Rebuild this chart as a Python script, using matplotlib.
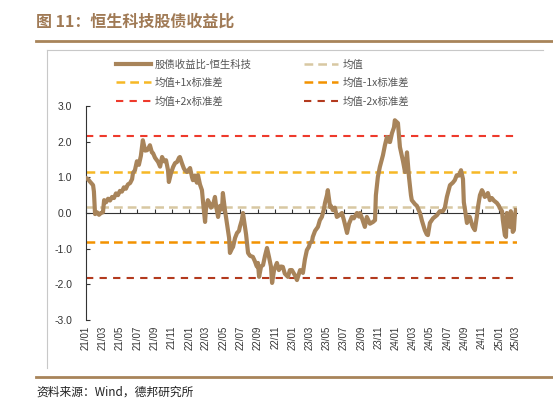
import numpy as np
import pandas as pd
import matplotlib
matplotlib.use("Agg")
import matplotlib.pyplot as plt
import matplotlib.dates as mdates
from matplotlib.lines import Line2D

plt.rcParams['font.family'] = ['Liberation Sans', 'Noto Sans CJK SC', 'DejaVu Sans']

###data: days since 2021-01-01 and stock/bond yield ratio
start = pd.Timestamp("2021-01-01")
days = [0, 7, 14, 25, 28, 32, 39, 46, 53, 60, 64, 71, 78, 85, 92, 99, 106, 113, 120, 127,
        134, 141, 148, 156, 163, 166, 173, 180, 187, 194, 201, 209, 216, 223, 226, 233, 237, 244, 255, 262,
        269, 276, 283, 290, 293, 300, 308, 315, 322, 329, 332, 339, 346, 350, 357, 368, 375, 378, 385, 392,
        396, 403, 410, 414, 421, 424, 431, 438, 442, 449, 456, 460, 467, 474, 481, 484, 491, 498, 506, 509,
        516, 520, 527, 534, 541, 544, 551, 555, 562, 566, 573, 580, 590, 597, 604, 608, 612, 619, 626, 633,
        640, 647, 654, 658, 665, 675, 682, 689, 696, 703, 714, 721, 728, 739, 746, 753, 757, 764, 767, 774,
        781, 788, 792, 799, 802, 810, 820, 827, 834, 841, 845, 852, 855, 863, 866, 873, 880, 887, 898, 905,
        912, 923, 930, 940, 947, 958, 965, 969, 976, 986, 993, 1004, 1015, 1022, 1025, 1032, 1039, 1050, 1057, 1064,
        1071, 1075, 1082, 1089, 1092, 1099, 1103, 1110, 1117, 1121, 1128, 1135, 1142, 1149, 1152, 1163, 1170, 1181, 1188, 1198,
        1205, 1209, 1216, 1227, 1241, 1251, 1262, 1269, 1276, 1287, 1297, 1304, 1311, 1319, 1326, 1333, 1336, 1340, 1347, 1354,
        1357, 1364, 1368, 1375, 1382, 1386, 1393, 1400, 1403, 1410, 1418, 1421, 1428, 1435, 1442, 1453, 1460, 1463, 1471, 1474,
        1481, 1485, 1488, 1495, 1499, 1502, 1506, 1509, 1513, 1516, 1520]
ratio = [0.98, 0.95, 0.88, 0.78, 0.6, -0.03, 0.02, -0.05, 0.0, 0.02, 0.36, 0.3, 0.4, 0.35, 0.45, 0.42, 0.55, 0.5, 0.62, 0.6,
         0.72, 0.68, 0.8, 0.84, 0.95, 1.12, 1.2, 1.45, 1.35, 1.6, 2.04, 1.75, 1.76, 1.85, 1.9, 1.7, 1.68, 1.55, 1.43, 1.3,
         1.57, 1.45, 1.48, 1.2, 0.87, 1.1, 1.29, 1.4, 1.43, 1.55, 1.57, 1.4, 1.25, 1.2, 1.15, 1.26, 1.0, 0.92, 1.05, 0.85,
         1.06, 0.8, 0.64, 0.3, -0.25, 0.1, 0.36, 0.25, 0.15, 0.22, 0.45, 0.2, -0.11, 0.2, 0.1, 0.56, 0.1, -0.28, -0.7, -1.12,
         -1.0, -0.95, -0.7, -0.56, -0.5, -0.39, -0.2, 0.0, -0.39, -0.6, -1.12, -1.2, -1.23, -1.35, -1.5, -1.4, -1.79, -1.5, -1.46, -1.2,
         -0.98, -1.23, -1.5, -1.96, -1.6, -1.4, -1.6, -1.5, -1.51, -1.7, -1.79, -1.6, -1.6, -1.75, -1.88, -1.7, -1.6, -1.65, -1.68, -1.3,
         -1.04, -0.95, -0.84, -0.8, -0.67, -0.5, -0.39, -0.2, -0.11, 0.1, 0.28, 0.5, 0.64, 0.17, 0.2, 0.08, 0.15, -0.11, -0.05, 0.0,
         -0.2, -0.56, -0.3, -0.11, -0.15, 0.0, -0.1, 0.0, -0.15, -0.39, -0.11, -0.3, -0.25, -0.2, 0.5, 1.01, 1.29, 1.62, 1.9, 2.13,
         2.0, 1.99, 2.24, 2.4, 2.6, 2.55, 2.52, 1.85, 1.6, 1.45, 1.15, 1.7, 1.01, 0.5, 0.36, 0.25, 0.2, 0.0, -0.22, -0.48,
         -0.6, -0.62, -0.28, -0.15, -0.06, 0.05, 0.05, 0.15, 0.45, 0.78, 0.85, 0.92, 1.06, 1.05, 1.2, 0.95, 0.3, 0.1, -0.28, -0.1,
         -0.11, -0.3, -0.39, -0.48, -0.1, 0.17, 0.5, 0.64, 0.6, 0.45, 0.5, 0.56, 0.36, 0.42, 0.35, 0.28, 0.2, 0.14, 0.05, -0.2,
         -0.62, -0.67, 0.0, -0.1, -0.39, 0.05, -0.11, -0.53, -0.48, -0.1, 0.08]
dates = start + pd.to_timedelta(days, unit="D")

mean_val = 0.17
std_val = 0.99

tick_dates = pd.date_range("2021-01-01", "2025-03-01", freq="2MS")
tick_labels = [d.strftime("%y/%m") for d in tick_dates]
y_ticks = [3.0, 2.0, 1.0, 0.0, -1.0, -2.0, -3.0]

brown = "#A8845A"

fig = plt.figure(figsize=(5.53, 4.17), dpi=100)

###title, rules and source
fig.text(36/553, 1-22/417, "图 11：恒生科技股债收益比", fontsize=11.5, fontweight="bold",
         color="#A07A55", va="center", ha="left", family=['Noto Sans CJK SC', 'DejaVu Sans'])
fig.add_artist(Line2D([36/553, 1], [1-41/417, 1-41/417], color=brown, lw=2))
fig.add_artist(Line2D([36/553, 1], [1-377/417, 1-377/417], color=brown, lw=2))
fig.add_artist(Line2D([47/553, 543/553], [1-50/417, 1-50/417], color="#C8C8C8", lw=0.8))
fig.add_artist(Line2D([47/553, 47/553], [1-50/417, 1-368/417], color="#C8C8C8", lw=0.8))
fig.text(36/553, 1-392/417, "资料来源：Wind，德邦研究所", fontsize=8.5, color="#222222",
         va="center", ha="left", family=['Noto Sans CJK SC', 'DejaVu Sans'])

ax = fig.add_axes([86/553, 1-320/417, (517-86)/553, 214/417])

ax.plot(dates, ratio, color=brown, lw=3, label="股债收益比-恒生科技", zorder=5)
ax.axhline(mean_val, color="#D8C8A2", lw=1.8, ls=(0, (3.5, 2)), label="均值")
ax.axhline(mean_val + std_val, color="#F6B825", lw=1.8, ls=(0, (3.5, 2)), label="均值+1x标准差")
ax.axhline(mean_val - std_val, color="#F39200", lw=1.8, ls=(0, (3.5, 2)), label="均值-1x标准差")
ax.axhline(mean_val + 2*std_val, color="#EE3A2C", lw=1.5, ls=(0, (3.5, 3)), label="均值+2x标准差")
ax.axhline(mean_val - 2*std_val, color="#B33A1E", lw=1.5, ls=(0, (3.5, 3)), label="均值-2x标准差")

ax.set_xlim(start, start + pd.Timedelta(days=1524))
ax.set_ylim(-3, 3)
ax.set_yticks(y_ticks)
ax.set_yticklabels(["%.1f" % v for v in y_ticks], fontsize=7.5, color="#333333")
ax.set_xticks(tick_dates)
ax.tick_params(axis="x", direction="in", length=3, labelbottom=False, color="#333333")
ax.tick_params(axis="y", direction="in", length=3, pad=10, color="#333333")

for side in ["top", "right"]:
    ax.spines[side].set_visible(False)
ax.spines["bottom"].set_position(("data", 0))
ax.spines["bottom"].set_color("#333333")
ax.spines["left"].set_color("#333333")
ax.spines["bottom"].set_linewidth(0.8)
ax.spines["left"].set_linewidth(0.8)

for d, lab in zip(tick_dates, tick_labels):
    ax.text(d, -0.025, lab, transform=ax.get_xaxis_transform(), rotation=90,
            ha="center", va="top", fontsize=7, color="#333333")

###legend in two columns, ordered like the original
h, l = ax.get_legend_handles_labels()
order = [0, 2, 4, 1, 3, 5]
leg = fig.legend([h[i] for i in order], [l[i] for i in order], ncol=2,
                 loc="upper left", bbox_to_anchor=(107/553, 1-50/417), frameon=False,
                 handlelength=3.3, columnspacing=5.0, labelspacing=0.8,
                 handletextpad=0.4, prop={'family': ['Noto Sans CJK SC', 'DejaVu Sans'], 'size': 7.5})
for t in leg.get_texts():
    t.set_color("#555555")

fig.savefig("out.png", dpi=100)
